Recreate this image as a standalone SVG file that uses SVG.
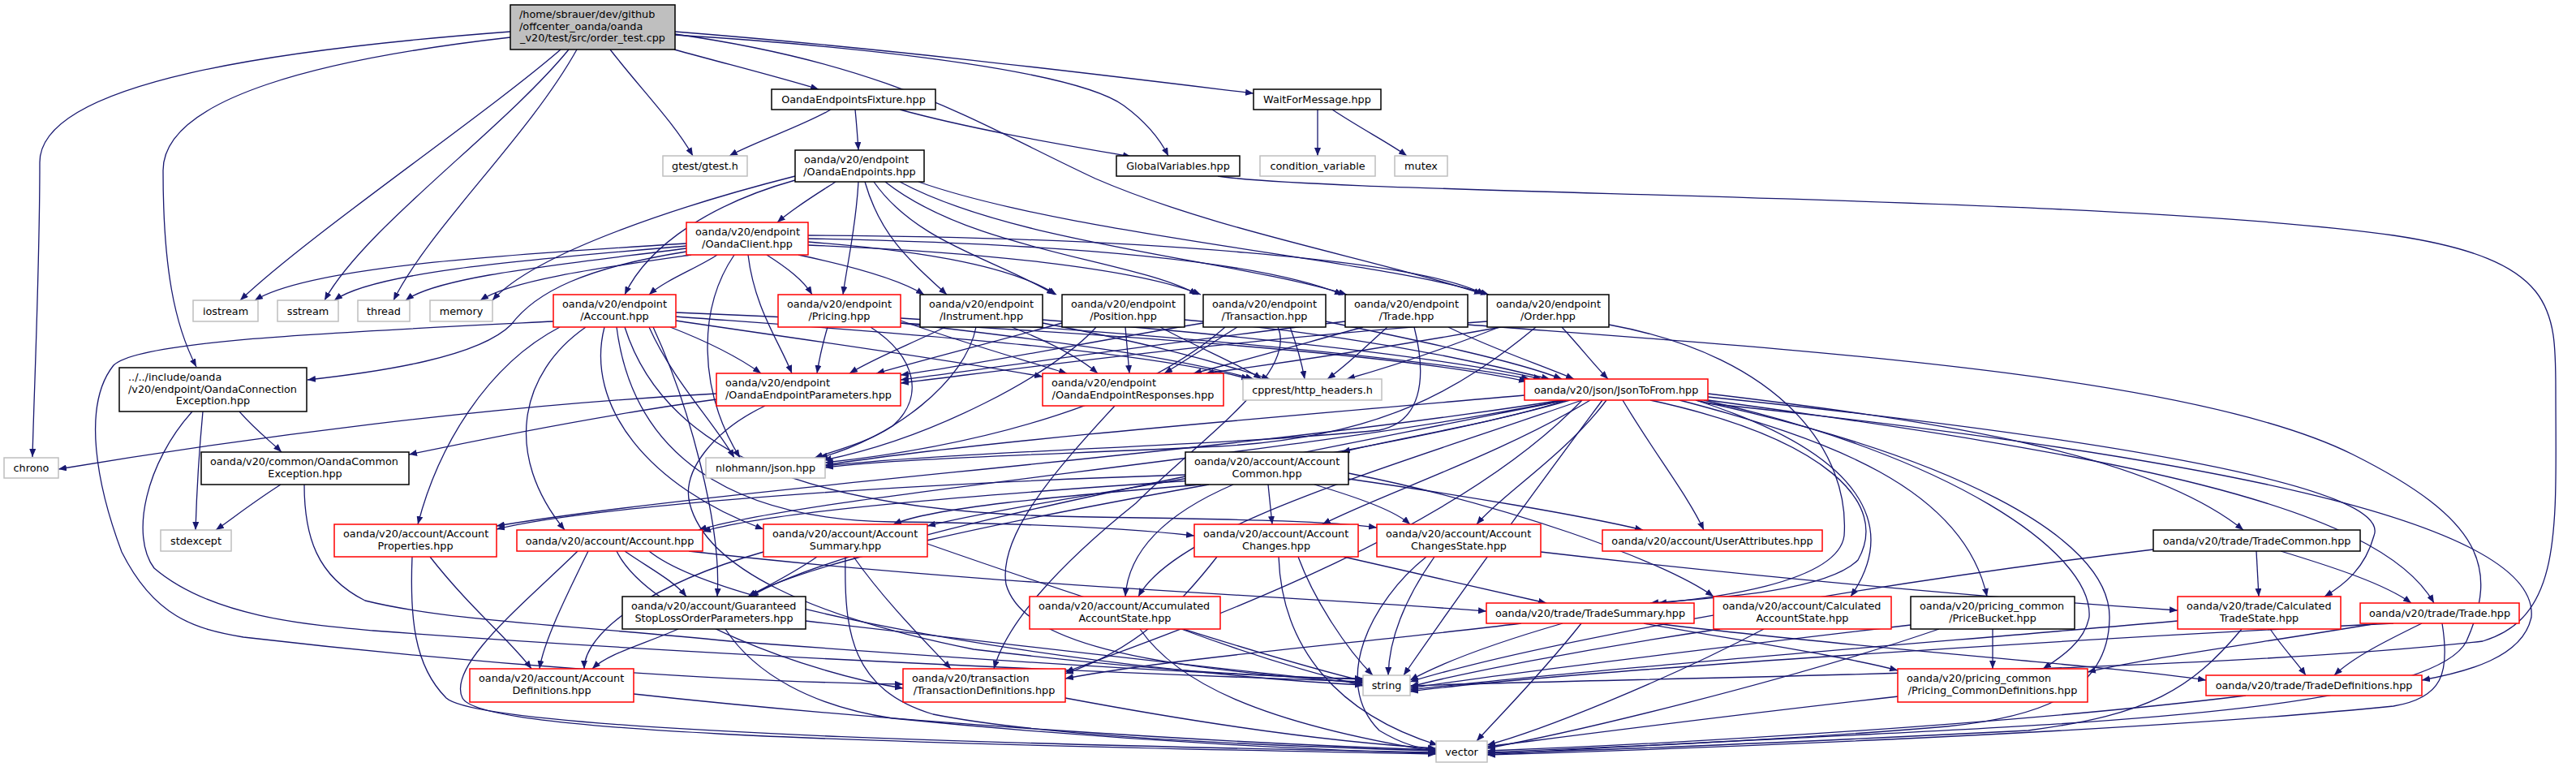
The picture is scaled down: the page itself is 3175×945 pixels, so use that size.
<svg xmlns="http://www.w3.org/2000/svg" width="3175" height="945" viewBox="0 0 3175 945">
<style>
.nd rect{fill:#fff;stroke:#000;stroke-width:1.5}
.nd.red rect{stroke:#f00}
.nd.gray rect{stroke:#bfbfbf}
.nd.main rect{fill:#bfbfbf}
text{font-family:"DejaVu Sans","Liberation Sans",sans-serif;font-size:12.8px;fill:#000}
.c{text-anchor:middle}
#edges path{fill:none;stroke:#191970;stroke-width:1.3;marker-end:url(#ah)}
</style>
<defs>
<marker id="ah" viewBox="0 0 10 8" refX="10" refY="4" markerWidth="10" markerHeight="8" markerUnits="userSpaceOnUse" orient="auto"><path d="M0,0 L10,4 L0,8 z" fill="#191970"/></marker>
</defs>
<rect x="0" y="0" width="3175" height="945" fill="#fff"/>
<g id="edges">
<path d="M629,39 C350,60 49,100 49,200 C49,330 42,480 40,563"/>
<path d="M629,46 C400,72 201,120 201,210 C201,330 215,400 242,452"/>
<path d="M691,61 C600,140 380,290 296,370"/>
<path d="M701,61 C620,160 450,280 400,370"/>
<path d="M711,61 C650,170 530,280 485,370"/>
<path d="M752,61 C790,110 830,150 854,192"/>
<path d="M831,61 C900,80 960,95 1009,110"/>
<path d="M832,43 C1100,60 1330,90 1385,130 C1415,152 1430,172 1440,192"/>
<path d="M832,39 C1100,60 1380,95 1545,115"/>
<path d="M832,42 C1100,80 1200,150 1350,220 C1500,285 1700,320 1827,362"/>
<path d="M1024,135 C990,155 930,175 899,192"/>
<path d="M1054,135 C1056,155 1057,170 1058,185"/>
<path d="M1109,135 C1200,160 1320,180 1394,193"/>
<path d="M1624,135 L1624,192"/>
<path d="M1642,135 C1680,160 1710,175 1734,192"/>
<path d="M1501,217 C1650,240 2600,240 2950,290 C3150,320 3150,380 3150,480 C3150,650 3160,760 3060,790 C2700,830 2000,835 1738,845"/>
<path d="M1030,224 C1005,240 980,255 958,274"/>
<path d="M980,217 C850,250 660,310 607,370"/>
<path d="M980,222 C880,250 800,300 770,363"/>
<path d="M1058,224 C1055,280 1045,320 1039,363"/>
<path d="M1066,224 C1085,290 1120,320 1167,363"/>
<path d="M1077,224 C1130,300 1230,320 1300,363"/>
<path d="M1091,224 C1200,310 1400,320 1476,363"/>
<path d="M1109,224 C1250,300 1520,320 1660,363"/>
<path d="M1132,224 C1320,290 1700,320 1835,363"/>
<path d="M846,300 C600,315 380,330 314,370"/>
<path d="M846,303 C650,320 460,335 412,370"/>
<path d="M846,306 C700,325 540,340 500,370"/>
<path d="M852,314 C740,330 630,345 592,370"/>
<path d="M884,314 C860,330 820,345 800,363"/>
<path d="M846,310 C720,330 660,360 630,400 C590,440 470,458 379,468"/>
<path d="M905,314 C860,380 860,480 912,564"/>
<path d="M922,314 C930,380 960,420 976,460"/>
<path d="M945,314 C970,330 990,345 1001,363"/>
<path d="M984,314 C1060,330 1110,345 1139,363"/>
<path d="M996,298 C1150,310 1250,330 1302,363"/>
<path d="M996,302 C1200,310 1400,330 1480,363"/>
<path d="M996,294 C1300,300 1550,320 1655,363"/>
<path d="M996,290 C1400,292 1750,320 1830,363"/>
<path d="M826,403 C870,420 910,440 938,460"/>
<path d="M833,395 C1000,420 1150,440 1285,464"/>
<path d="M833,390 C1100,410 1400,430 1540,467"/>
<path d="M833,385 C1200,400 1700,430 1882,470"/>
<path d="M800,403 C830,470 880,520 905,564"/>
<path d="M690,403 C600,450 540,550 515,646"/>
<path d="M722,403 C640,460 620,560 696,653"/>
<path d="M745,403 C720,500 800,600 941,652"/>
<path d="M760,403 C780,560 900,640 1100,643 C1300,645 1400,652 1472,660"/>
<path d="M770,403 C820,560 1000,628 1300,636 C1500,640 1620,640 1697,650"/>
<path d="M805,403 C850,500 890,650 884,735"/>
<path d="M682,396 C400,410 170,420 140,450 C100,500 120,600 150,680 C190,760 240,775 300,785 C600,820 900,840 1113,843"/>
<path d="M1020,403 C1015,420 1010,440 1007,460"/>
<path d="M1110,395 C1180,420 1250,440 1315,460"/>
<path d="M1110,398 C1300,420 1450,440 1545,467"/>
<path d="M1110,392 C1400,410 1750,440 1885,467"/>
<path d="M1073,403 C1130,440 1140,490 1100,525 C1070,545 1030,555 1004,564"/>
<path d="M1165,403 C1120,425 1080,440 1047,460"/>
<path d="M1247,403 C1290,420 1330,440 1353,460"/>
<path d="M1285,398 C1400,420 1480,440 1565,467"/>
<path d="M1285,394 C1500,410 1780,440 1900,467"/>
<path d="M1203,403 C1190,470 1100,540 1010,564"/>
<path d="M1309,398 C1230,420 1150,440 1080,460"/>
<path d="M1387,403 L1392,460"/>
<path d="M1430,403 C1480,430 1530,450 1555,467"/>
<path d="M1460,394 C1650,410 1800,440 1910,467"/>
<path d="M1351,403 C1300,460 1150,540 1015,567"/>
<path d="M1483,398 C1350,420 1200,450 1110,462"/>
<path d="M1525,403 C1490,425 1460,445 1435,460"/>
<path d="M1590,403 C1600,430 1605,450 1608,467"/>
<path d="M1634,396 C1750,420 1870,445 1925,467"/>
<path d="M1510,403 C1400,500 1200,550 1017,570"/>
<path d="M1575,403 C1600,460 1480,540 1400,620 C1300,700 1240,770 1225,824"/>
<path d="M1658,396 C1450,420 1250,450 1110,468"/>
<path d="M1680,403 C1600,425 1530,445 1471,460"/>
<path d="M1710,403 C1680,430 1660,450 1636,467"/>
<path d="M1785,403 C1840,430 1900,450 1940,467"/>
<path d="M1743,403 C1760,470 1750,520 1700,530 C1500,550 1200,555 1017,574"/>
<path d="M1809,400 C2200,430 2700,460 2900,560 C3060,640 3080,700 3040,790 C3000,870 2600,890 2300,905 C2100,915 1950,922 1833,930"/>
<path d="M1833,396 C1500,420 1250,455 1110,472"/>
<path d="M1850,403 C1700,430 1560,450 1486,460"/>
<path d="M1848,403 C1780,430 1720,450 1660,467"/>
<path d="M1925,403 C1950,430 1965,450 1982,467"/>
<path d="M1893,403 C1800,480 1700,540 1500,550 C1300,560 1100,565 1017,576"/>
<path d="M1983,400 C2200,440 2280,560 2273,660 C2265,720 2100,738 2044,743"/>
<path d="M1879,487 C1500,520 1200,545 1017,573"/>
<path d="M1930,493 C1850,520 1720,540 1654,557"/>
<path d="M1925,493 C1500,560 900,600 612,648"/>
<path d="M1928,493 C1600,560 1000,610 861,653"/>
<path d="M1935,493 C1700,560 1300,610 1143,648"/>
<path d="M1960,493 C1850,560 1700,610 1630,646"/>
<path d="M1980,493 C1930,560 1850,610 1820,646"/>
<path d="M2000,493 C2040,560 2080,610 2100,653"/>
<path d="M1930,493 C1500,580 1050,660 925,735"/>
<path d="M1950,493 C1700,580 1450,650 1403,735"/>
<path d="M2034,493 C2250,540 2330,620 2290,690 C2250,730 2100,738 2034,743"/>
<path d="M2090,493 C2300,560 2340,650 2281,735"/>
<path d="M2105,485 C2400,520 2650,560 2765,653"/>
<path d="M2105,489 C2600,540 2950,600 2926,660 C2915,700 2890,720 2865,735"/>
<path d="M2105,493 C2600,560 2930,620 3000,743"/>
<path d="M2105,497 C2700,560 3130,640 3120,760 C3110,810 3040,828 2985,838"/>
<path d="M2100,493 C2400,560 2580,680 2575,760 C2570,790 2540,810 2518,824"/>
<path d="M2070,493 C2250,540 2420,600 2449,735"/>
<path d="M2090,493 C2400,560 2600,660 2600,760 C2600,860 2500,885 2400,895 C2200,912 2000,920 1833,927"/>
<path d="M1975,493 C1880,620 1780,760 1730,832"/>
<path d="M1950,493 C1800,650 1500,760 1313,828"/>
<path d="M1480,597 C1300,612 1150,625 1101,646"/>
<path d="M1470,592 C1200,610 950,630 866,655"/>
<path d="M1461,585 C1000,600 700,630 612,652"/>
<path d="M1563,597 L1568,646"/>
<path d="M1620,597 C1680,615 1720,630 1738,646"/>
<path d="M1490,597 C1250,640 1000,690 922,735"/>
<path d="M1520,597 C1420,640 1390,690 1387,735"/>
<path d="M1662,583 C1850,620 2050,690 2112,735"/>
<path d="M1662,590 C1800,610 1950,635 2025,653"/>
<path d="M250,507 C245,560 242,620 241,653"/>
<path d="M295,507 C315,530 335,545 347,557"/>
<path d="M237,507 C180,570 160,660 190,700 C260,760 380,770 460,777 C900,810 1400,830 1680,840"/>
<path d="M346,597 C310,620 285,640 266,653"/>
<path d="M375,597 C375,660 390,710 450,740 C550,765 700,770 900,790 C1300,820 1550,833 1680,837"/>
<path d="M883,485 C600,500 300,540 72,578"/>
<path d="M883,492 C750,510 600,540 504,560"/>
<path d="M943,500 C880,530 840,580 850,620 C870,700 1000,760 1200,800 C1450,830 1600,835 1680,836"/>
<path d="M1374,500 C1300,580 1230,660 1240,720 C1260,790 1400,822 1680,841"/>
<path d="M530,686 C580,750 630,790 655,824"/>
<path d="M508,686 C505,760 510,820 550,860 C600,905 1400,920 1770,927"/>
<path d="M725,679 C700,730 670,790 665,824"/>
<path d="M770,679 C800,700 830,715 846,735"/>
<path d="M849,679 C1200,720 1600,735 1832,753"/>
<path d="M712,679 C650,740 550,820 570,860 C590,900 1000,915 1770,929"/>
<path d="M760,679 C800,760 1000,830 1113,848"/>
<path d="M800,679 C900,760 1400,830 1680,844"/>
<path d="M1007,686 C980,705 950,720 922,735"/>
<path d="M941,680 C800,720 720,780 720,824"/>
<path d="M1052,686 C1090,740 1140,790 1172,824"/>
<path d="M1042,686 C1040,780 1050,850 1150,880 C1300,910 1600,920 1770,925"/>
<path d="M1143,670 C1400,760 1600,820 1680,839"/>
<path d="M836,775 C790,795 750,805 730,824"/>
<path d="M993,765 C1300,800 1550,830 1680,842"/>
<path d="M894,775 C930,830 1000,870 1100,885 C1400,915 1650,925 1770,928"/>
<path d="M1656,686 C1760,710 1850,730 1906,743"/>
<path d="M1600,686 C1620,740 1660,800 1692,832"/>
<path d="M1576,686 C1580,800 1650,880 1772,918"/>
<path d="M1500,686 C1450,750 1400,800 1313,830"/>
<path d="M1768,686 C1730,740 1712,790 1711,832"/>
<path d="M1758,686 C1690,740 1640,840 1700,900 C1730,918 1750,922 1770,924"/>
<path d="M1899,680 C2200,715 2500,740 2684,752"/>
<path d="M1456,775 C1550,810 1620,830 1680,845"/>
<path d="M1405,775 C1450,840 1550,890 1770,926"/>
<path d="M1926,768 C1850,790 1780,815 1738,838"/>
<path d="M1875,768 C1700,790 1450,810 1313,836"/>
<path d="M1949,768 C1900,830 1850,880 1820,913"/>
<path d="M2026,768 C2150,790 2280,810 2339,826"/>
<path d="M2040,768 C2300,800 2600,820 2719,838"/>
<path d="M2120,775 C1950,800 1800,830 1738,846"/>
<path d="M2174,775 C2050,840 1900,900 1833,918"/>
<path d="M2456,775 L2456,824"/>
<path d="M2355,770 C2100,800 1850,830 1738,848"/>
<path d="M2390,775 C2200,840 1950,900 1833,922"/>
<path d="M2781,679 L2784,735"/>
<path d="M2811,679 C2880,700 2940,720 2972,743"/>
<path d="M2654,677 C2300,720 1900,790 1738,840"/>
<path d="M2798,775 C2815,800 2830,815 2842,832"/>
<path d="M2684,765 C2400,790 1900,830 1738,850"/>
<path d="M2763,775 C2700,850 2650,880 2500,900 C2200,915 1950,925 1833,928"/>
<path d="M2985,768 C2940,790 2900,810 2877,832"/>
<path d="M2950,768 C2500,790 1900,830 1738,852"/>
<path d="M2930,768 C2800,790 2650,810 2573,828"/>
<path d="M3010,768 C3020,830 3010,860 2950,870 C2600,905 2000,925 1833,930"/>
<path d="M2768,857 C2500,890 2100,915 1833,925"/>
<path d="M2340,858 C2100,885 1950,905 1833,920"/>
<path d="M1313,860 C1500,895 1650,915 1770,922"/>
<path d="M781,855 C1100,890 1500,915 1770,924"/>
</g>
<g id="n-main" class="nd main"><rect x="629" y="6" width="203" height="55"/><text x="640" y="21.5">/home/sbrauer/dev/github</text><text x="640" y="36.5">/offcenter_oanda/oanda</text><text class="c" x="730.5" y="51">_v20/test/src/order_test.cpp</text></g>
<g id="n-fixture" class="nd"><rect x="951" y="110" width="202" height="25"/><text class="c" x="1052" y="127">OandaEndpointsFixture.hpp</text></g>
<g id="n-gtest" class="nd gray"><rect x="817" y="192" width="104" height="25"/><text class="c" x="869" y="209">gtest/gtest.h</text></g>
<g id="n-endpoints" class="nd"><rect x="980" y="185" width="159" height="39"/><text x="991" y="201">oanda/v20/endpoint</text><text class="c" x="1059.5" y="216">/OandaEndpoints.hpp</text></g>
<g id="n-globalvars" class="nd"><rect x="1376" y="192" width="152" height="25"/><text class="c" x="1452" y="209">GlobalVariables.hpp</text></g>
<g id="n-waitfor" class="nd"><rect x="1545" y="110" width="157" height="25"/><text class="c" x="1623.5" y="127">WaitForMessage.hpp</text></g>
<g id="n-condvar" class="nd gray"><rect x="1553" y="192" width="142" height="25"/><text class="c" x="1624" y="209">condition_variable</text></g>
<g id="n-mutex" class="nd gray"><rect x="1719" y="192" width="65" height="25"/><text class="c" x="1751.5" y="209">mutex</text></g>
<g id="n-client" class="nd red"><rect x="846" y="274" width="150" height="40"/><text x="857" y="290">oanda/v20/endpoint</text><text class="c" x="921" y="305">/OandaClient.hpp</text></g>
<g id="n-iostream" class="nd gray"><rect x="238" y="370" width="80" height="26"/><text class="c" x="278" y="387.5">iostream</text></g>
<g id="n-sstream" class="nd gray"><rect x="342" y="370" width="75" height="26"/><text class="c" x="379.5" y="387.5">sstream</text></g>
<g id="n-thread" class="nd gray"><rect x="441" y="370" width="64" height="26"/><text class="c" x="473" y="387.5">thread</text></g>
<g id="n-memory" class="nd gray"><rect x="530" y="370" width="77" height="26"/><text class="c" x="568.5" y="387.5">memory</text></g>
<g id="n-ep-account" class="nd red"><rect x="682" y="363" width="151" height="40"/><text x="693" y="379">oanda/v20/endpoint</text><text class="c" x="757.5" y="394">/Account.hpp</text></g>
<g id="n-ep-pricing" class="nd red"><rect x="959" y="363" width="151" height="40"/><text x="970" y="379">oanda/v20/endpoint</text><text class="c" x="1034.5" y="394">/Pricing.hpp</text></g>
<g id="n-ep-instrument" class="nd"><rect x="1134" y="363" width="151" height="40"/><text x="1145" y="379">oanda/v20/endpoint</text><text class="c" x="1209.5" y="394">/Instrument.hpp</text></g>
<g id="n-ep-position" class="nd"><rect x="1309" y="363" width="151" height="40"/><text x="1320" y="379">oanda/v20/endpoint</text><text class="c" x="1384.5" y="394">/Position.hpp</text></g>
<g id="n-ep-transaction" class="nd"><rect x="1483" y="363" width="151" height="40"/><text x="1494" y="379">oanda/v20/endpoint</text><text class="c" x="1558.5" y="394">/Transaction.hpp</text></g>
<g id="n-ep-trade" class="nd"><rect x="1658" y="363" width="151" height="40"/><text x="1669" y="379">oanda/v20/endpoint</text><text class="c" x="1733.5" y="394">/Trade.hpp</text></g>
<g id="n-ep-order" class="nd"><rect x="1833" y="363" width="150" height="40"/><text x="1844" y="379">oanda/v20/endpoint</text><text class="c" x="1908" y="394">/Order.hpp</text></g>
<g id="n-connexc" class="nd"><rect x="147" y="453" width="231" height="54"/><text x="158" y="469">../../include/oanda</text><text x="158" y="483.5">/v20/endpoint/OandaConnection</text><text class="c" x="262.5" y="498">Exception.hpp</text></g>
<g id="n-params" class="nd red"><rect x="883" y="460" width="227" height="40"/><text x="894" y="476">oanda/v20/endpoint</text><text class="c" x="996.5" y="491">/OandaEndpointParameters.hpp</text></g>
<g id="n-responses" class="nd red"><rect x="1285" y="460" width="223" height="40"/><text x="1296" y="476">oanda/v20/endpoint</text><text class="c" x="1396.5" y="491">/OandaEndpointResponses.hpp</text></g>
<g id="n-cpprest" class="nd gray"><rect x="1532" y="467" width="171" height="26"/><text class="c" x="1617.5" y="484.5">cpprest/http_headers.h</text></g>
<g id="n-jsontofrom" class="nd red"><rect x="1879" y="467" width="226" height="26"/><text class="c" x="1992" y="484.5">oanda/v20/json/JsonToFrom.hpp</text></g>
<g id="n-chrono" class="nd gray"><rect x="5" y="564" width="67" height="25"/><text class="c" x="38.5" y="581">chrono</text></g>
<g id="n-nlohmann" class="nd gray"><rect x="870" y="564" width="147" height="25"/><text class="c" x="943.5" y="581">nlohmann/json.hpp</text></g>
<g id="n-commonexc" class="nd"><rect x="248" y="557" width="256" height="40"/><text x="259" y="573">oanda/v20/common/OandaCommon</text><text class="c" x="376" y="588">Exception.hpp</text></g>
<g id="n-acccommon" class="nd"><rect x="1461" y="557" width="201" height="40"/><text x="1472" y="573">oanda/v20/account/Account</text><text class="c" x="1561.5" y="588">Common.hpp</text></g>
<g id="n-stdexcept" class="nd gray"><rect x="198" y="653" width="87" height="26"/><text class="c" x="241.5" y="670.5">stdexcept</text></g>
<g id="n-accprops" class="nd red"><rect x="412" y="646" width="200" height="40"/><text x="423" y="662">oanda/v20/account/Account</text><text class="c" x="512" y="677">Properties.hpp</text></g>
<g id="n-accaccount" class="nd red"><rect x="637" y="653" width="229" height="26"/><text class="c" x="751.5" y="670.5">oanda/v20/account/Account.hpp</text></g>
<g id="n-accsummary" class="nd red"><rect x="941" y="646" width="202" height="40"/><text x="952" y="662">oanda/v20/account/Account</text><text class="c" x="1042" y="677">Summary.hpp</text></g>
<g id="n-accchanges" class="nd red"><rect x="1472" y="646" width="202" height="40"/><text x="1483" y="662">oanda/v20/account/Account</text><text class="c" x="1573" y="677">Changes.hpp</text></g>
<g id="n-accchangesstate" class="nd red"><rect x="1697" y="646" width="202" height="40"/><text x="1708" y="662">oanda/v20/account/Account</text><text class="c" x="1798" y="677">ChangesState.hpp</text></g>
<g id="n-userattr" class="nd red"><rect x="1975" y="653" width="271" height="26"/><text class="c" x="2110.5" y="670.5">oanda/v20/account/UserAttributes.hpp</text></g>
<g id="n-gslop" class="nd"><rect x="767" y="735" width="226" height="40"/><text x="778" y="751">oanda/v20/account/Guaranteed</text><text class="c" x="880" y="766">StopLossOrderParameters.hpp</text></g>
<g id="n-accumstate" class="nd red"><rect x="1269" y="735" width="235" height="40"/><text x="1280" y="751">oanda/v20/account/Accumulated</text><text class="c" x="1386.5" y="766">AccountState.hpp</text></g>
<g id="n-tradesummary" class="nd red"><rect x="1832" y="743" width="256" height="25"/><text class="c" x="1960" y="760">oanda/v20/trade/TradeSummary.hpp</text></g>
<g id="n-calcaccstate" class="nd red"><rect x="2112" y="735" width="219" height="40"/><text x="2123" y="751">oanda/v20/account/Calculated</text><text class="c" x="2221.5" y="766">AccountState.hpp</text></g>
<g id="n-pricebucket" class="nd"><rect x="2355" y="735" width="202" height="40"/><text x="2366" y="751">oanda/v20/pricing_common</text><text class="c" x="2456" y="766">/PriceBucket.hpp</text></g>
<g id="n-tradecommon" class="nd"><rect x="2654" y="653" width="255" height="26"/><text class="c" x="2781.5" y="670.5">oanda/v20/trade/TradeCommon.hpp</text></g>
<g id="n-calctradestate" class="nd red"><rect x="2684" y="735" width="201" height="40"/><text x="2695" y="751">oanda/v20/trade/Calculated</text><text class="c" x="2784.5" y="766">TradeState.hpp</text></g>
<g id="n-trade" class="nd red"><rect x="2909" y="743" width="196" height="25"/><text class="c" x="3007" y="760">oanda/v20/trade/Trade.hpp</text></g>
<g id="n-accdefs" class="nd red"><rect x="579" y="824" width="202" height="41"/><text x="590" y="840">oanda/v20/account/Account</text><text class="c" x="680" y="855">Definitions.hpp</text></g>
<g id="n-transdefs" class="nd red"><rect x="1113" y="824" width="200" height="41"/><text x="1124" y="840">oanda/v20/transaction</text><text class="c" x="1213" y="855">/TransactionDefinitions.hpp</text></g>
<g id="n-string" class="nd gray"><rect x="1680" y="832" width="58" height="25"/><text class="c" x="1709" y="849">string</text></g>
<g id="n-pcdefs" class="nd red"><rect x="2339" y="824" width="234" height="41"/><text x="2350" y="840">oanda/v20/pricing_common</text><text class="c" x="2456" y="855">/Pricing_CommonDefinitions.hpp</text></g>
<g id="n-tradedefs" class="nd red"><rect x="2719" y="832" width="266" height="25"/><text class="c" x="2852" y="849">oanda/v20/trade/TradeDefinitions.hpp</text></g>
<g id="n-vector" class="nd gray"><rect x="1770" y="913" width="63" height="26"/><text class="c" x="1801.5" y="930.5">vector</text></g>
</svg>
